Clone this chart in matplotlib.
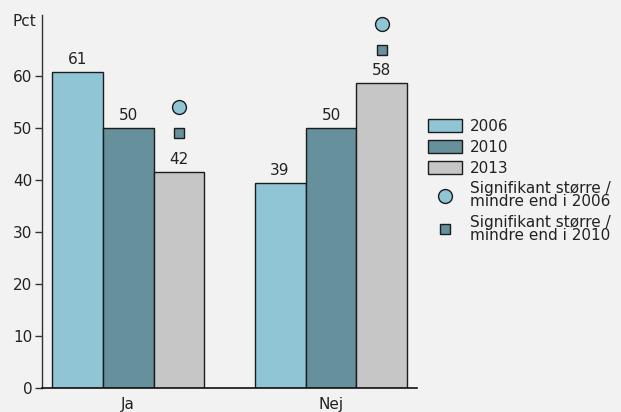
import numpy as np
import matplotlib.pyplot as plt
from matplotlib.patches import Patch
from matplotlib.lines import Line2D

categories = ['Ja', 'Nej']
years = ['2006', '2010', '2013']
values = {
    '2006': [60.7, 39.4],
    '2010': [50.0, 50.0],
    '2013': [41.6, 58.6],
}
labels = {
    '2006': ['61', '39'],
    '2010': ['50', '50'],
    '2013': ['42', '58'],
}
# signifikans-markeringer ved 2013-søjlerne (placering i pct)
sig_2006 = [54.1, 70.0]
sig_2010 = [49.0, 65.0]

colors = {'2006': '#8fc5d4', '2010': '#66909c', '2013': '#c6c6c6'}
bg = '#f2f2f2'
edge = '#1c1c1c'
txt = '#222222'
fs = 11

plt.rcParams['font.family'] = ['DejaVu Sans']
plt.rcParams['font.size'] = fs

fig = plt.figure(figsize=(6.21, 4.12), dpi=100, facecolor=bg)
ax = fig.add_axes([0.0676, 1 - 388.3 / 412, 0.604, (388.3 - 15) / 412], facecolor=bg)

x = np.arange(len(categories))
w = 0.251
for i, yr in enumerate(years):
    xs = x + (i - 1) * w
    ax.bar(xs, values[yr], w, color=colors[yr], edgecolor=edge, linewidth=1)
    for xi, v, lab in zip(xs, values[yr], labels[yr]):
        ax.text(xi, v + 1.0, lab, ha='center', va='bottom', color=txt, fontsize=fs)

# markører over 2013-søjlen
xs13 = x + w
ax.plot(xs13, sig_2006, 'o', ms=10, mfc=colors['2006'], mec=edge, mew=1, clip_on=False)
ax.plot(xs13, sig_2010, 's', ms=7.3, mfc=colors['2010'], mec=edge, mew=1, clip_on=False)

ax.set_xlim(-0.424, 1.424)
ax.set_ylim(0, 71.7)
ax.set_yticks(np.arange(0, 61, 10))
ax.set_xticks(x)
ax.set_xticklabels(categories)
ax.tick_params(axis='x', length=0, pad=6, colors=txt, labelsize=fs)
ax.tick_params(axis='y', length=5, width=1, colors='#333333', labelcolor=txt, labelsize=fs, pad=2)
for s in ['top', 'right']:
    ax.spines[s].set_visible(False)
ax.spines['left'].set_color('#333333')
ax.spines['bottom'].set_color('#111111')
ax.spines['left'].set_linewidth(1)
ax.spines['bottom'].set_linewidth(1.2)

fig.text(36 / 621, 1 - 22 / 412, 'Pct', ha='right', va='center', color=txt, fontsize=fs)

handles = [Patch(facecolor=colors[yr], edgecolor=edge, linewidth=1) for yr in years]
handles.append(Line2D([], [], marker='o', ls='', ms=10, mfc=colors['2006'], mec=edge, mew=1))
handles.append(Line2D([], [], marker='s', ls='', ms=7.3, mfc=colors['2010'], mec=edge, mew=1))
leg_labels = years + ['Signifikant større /\nmindre end i 2006', 'Signifikant større /\nmindre end i 2010']
leg = fig.legend(handles, leg_labels, loc='upper left', bbox_to_anchor=(428 / 621, 1 - 119 / 412),
                 frameon=False, handlelength=2.2, handleheight=0.9, handletextpad=0.55,
                 labelspacing=0.38, borderaxespad=0, borderpad=0, fontsize=fs)
for t in leg.get_texts():
    t.set_color(txt)
    t.set_linespacing(0.82)

fig.savefig('out.png', dpi=100, facecolor=bg)
